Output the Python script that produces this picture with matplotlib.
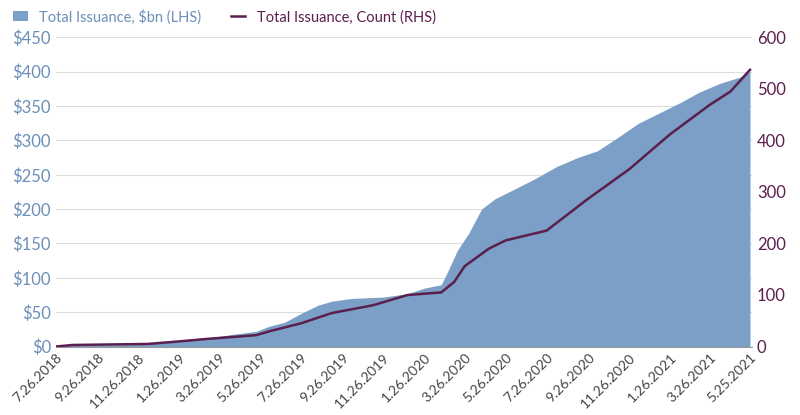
import matplotlib
matplotlib.use("Agg")
import matplotlib.pyplot as plt
import pandas as pd

amt_dates = ["2018-07-26","2018-08-20","2018-11-26","2018-12-10","2019-01-26","2019-03-10","2019-04-10",
             "2019-05-20","2019-06-10","2019-07-01","2019-07-26","2019-08-20","2019-09-10","2019-10-10",
             "2019-11-26","2020-01-01","2020-01-26","2020-02-20","2020-03-01","2020-03-15","2020-04-01",
             "2020-04-20","2020-05-10","2020-06-10","2020-07-10","2020-08-10","2020-09-10","2020-10-10",
             "2020-11-10","2020-12-10","2021-01-10","2021-02-10","2021-03-10","2021-04-10","2021-05-10","2021-05-25"]
amt_vals = [0,2,3,6,8,12,17,22,30,35,48,60,66,70,72,77,85,90,110,140,165,200,215,230,245,262,275,285,
            305,325,340,355,370,383,392,400]

cnt_dates = ["2018-07-26","2018-08-20","2018-12-10","2019-01-26","2019-03-10","2019-05-20","2019-06-10",
             "2019-07-26","2019-09-10","2019-11-10","2020-01-01","2020-02-20","2020-03-10","2020-03-26",
             "2020-05-01","2020-05-26","2020-07-26","2020-09-26","2020-11-26","2021-01-26","2021-03-26",
             "2021-04-26","2021-05-25"]
cnt_vals = [0,3,5,10,15,22,30,45,65,80,100,105,125,156,190,206,225,287,344,412,469,495,537]

tick_labels = ["7.26.2018","9.26.2018","11.26.2018","1.26.2019","3.26.2019","5.26.2019","7.26.2019",
               "9.26.2019","11.26.2019","1.26.2020","3.26.2020","5.26.2020","7.26.2020","9.26.2020",
               "11.26.2020","1.26.2021","3.26.2021","5.25.2021"]

plt.rcParams["font.family"] = "Lato"
fig = plt.figure(figsize=(8, 4.15), dpi=100)
ax = fig.add_axes([0.07, 0.165, 0.87, 0.745])
ad = pd.to_datetime(amt_dates)
cd = pd.to_datetime(cnt_dates)
ax.fill_between(ad, amt_vals, color="#7b9fc6", linewidth=0, label="Total Issuance, $bn (LHS)")
ax.set_ylim(0, 450)
ax.set_yticks(range(0, 451, 50))
ax.set_yticklabels([f"${v}" for v in range(0, 451, 50)], color="#6b8fb8", fontsize=12)
ax.grid(axis="y", color="#dddddd", linewidth=0.8)
ax.set_axisbelow(True)
ax2 = ax.twinx()
ax2.plot(cd, cnt_vals, color="#5b1f4e", linewidth=1.8, label="Total Issuance, Count (RHS)")
ax2.set_ylim(0, 600)
ax2.set_yticks(range(0, 601, 100))
ax2.tick_params(axis="y", colors="#5b1f4e", labelsize=12, length=0)
ax.tick_params(axis="y", length=0)
ticks = pd.to_datetime(tick_labels, format="%m.%d.%Y")
ax.set_xticks(ticks)
ax.set_xticklabels(tick_labels, rotation=45, ha="right", rotation_mode="anchor", fontsize=10, color="#444444")
ax.set_xlim(pd.Timestamp("2018-07-26"), pd.Timestamp("2021-05-28"))
for a in (ax, ax2):
    for s in a.spines.values():
        s.set_visible(False)
ax.spines["bottom"].set_visible(True)
ax.spines["bottom"].set_color("#999999")
ax.tick_params(axis="x", length=0)
h1, l1 = ax.get_legend_handles_labels()
h2, l2 = ax2.get_legend_handles_labels()
fig.legend(h1 + h2, l1 + l2, loc="upper left", bbox_to_anchor=(0.0, 1.01), ncol=2, frameon=False,
           fontsize=10.5, labelcolor=["#6b8fb8", "#5b1f4e"], handlelength=1, columnspacing=2)
fig.savefig("out.png", dpi=100)
